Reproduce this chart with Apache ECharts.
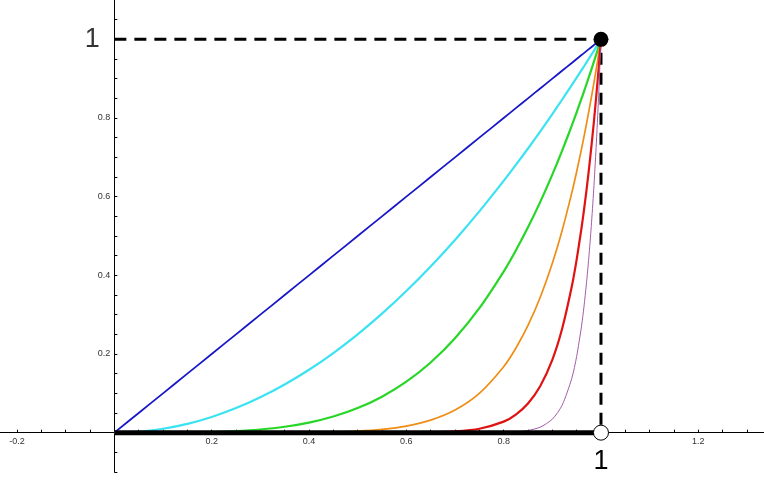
<!DOCTYPE html>
<html>
<head>
<meta charset="utf-8">
<script src="https://cdn.jsdelivr.net/npm/echarts@6/dist/echarts.min.js"></script>
<style>
  html, body { margin: 0; padding: 0; background: #fff; }
  #chart { width: 764px; height: 498px; }
</style>
</head>
<body>
<div id="chart"></div>
<script>
// sample x positions along the curves
const xs = [0, 0.05, 0.1, 0.15, 0.2, 0.25, 0.3, 0.35, 0.4, 0.45, 0.5, 0.55, 0.6, 0.65, 0.7, 0.75, 0.8,
  0.825, 0.85, 0.875, 0.9, 0.92, 0.94, 0.95, 0.96, 0.965, 0.97, 0.975, 0.98, 0.985, 0.99, 0.995, 1];

// curve values
const blueY = [0, 0.05, 0.1, 0.15, 0.2, 0.25, 0.3, 0.35, 0.4, 0.45, 0.5, 0.55, 0.6, 0.65, 0.7, 0.75, 0.8,
  0.825, 0.85, 0.875, 0.9, 0.92, 0.94, 0.95, 0.96, 0.965, 0.97, 0.975, 0.98, 0.985, 0.99, 0.995, 1];
const cyanY = [0, 0.0025, 0.01, 0.0225, 0.04, 0.0625, 0.09, 0.1225, 0.16, 0.2025, 0.25, 0.3025, 0.36, 0.4225, 0.49, 0.5625, 0.64,
  0.6806, 0.7225, 0.7656, 0.81, 0.8464, 0.8836, 0.9025, 0.9216, 0.9312, 0.9409, 0.9506, 0.9604, 0.9702, 0.9801, 0.990, 1];
const greenY = [0, 0, 0.0001, 0.0005, 0.0016, 0.0039, 0.0081, 0.015, 0.0256, 0.041, 0.0625, 0.0915, 0.1296, 0.1785, 0.2401, 0.3164, 0.4096,
  0.4633, 0.522, 0.5862, 0.6561, 0.7164, 0.7807, 0.8145, 0.8493, 0.8672, 0.8853, 0.9037, 0.9224, 0.9413, 0.9606, 0.9801, 1];
const orangeY = [0, 0, 0, 0, 0, 0, 0.0001, 0.0002, 0.0007, 0.0017, 0.0039, 0.0084, 0.0168, 0.0319, 0.0576, 0.1001, 0.1678,
  0.2146, 0.2725, 0.3436, 0.4305, 0.5132, 0.6096, 0.6634, 0.7214, 0.752, 0.7837, 0.8167, 0.8508, 0.8861, 0.9227, 0.9607, 1];
const redY = [0, 0, 0, 0, 0, 0, 0, 0, 0, 0, 0, 0.0001, 0.0003, 0.001, 0.0033, 0.01, 0.0281,
  0.0461, 0.0743, 0.1181, 0.1853, 0.2634, 0.3716, 0.4401, 0.5204, 0.5655, 0.6142, 0.6669, 0.7238, 0.7852, 0.8515, 0.9229, 1];
const purpleY = [0, 0, 0, 0, 0, 0, 0, 0, 0, 0, 0, 0, 0, 0, 0, 0.0001, 0.0008,
  0.0021, 0.0055, 0.0139, 0.0343, 0.0694, 0.1381, 0.1937, 0.2708, 0.3198, 0.3773, 0.4448, 0.5239, 0.6166, 0.725, 0.8518, 1];

// guide marks
const baseLine = [[0, 0], [1, 0]];
const dashLine = [[0, 1], [1, 1], [1, 0]];
const filledPt = [[1, 1]];
const openPt = [[1, 0]];
const leftOne = [[0, 1]];

// axis ranges, ticks and labels
const xMin = -0.235, xMax = 1.335;
const yMin = -0.1, yMax = 1.1;
const xTicks = [];
for (let i = -4; i <= 26; i++) xTicks.push(+(i * 0.05).toFixed(2));
const xLabels = [-0.2, 0.2, 0.4, 0.6, 0.8, 1.2];
const yTicks = [];
for (let i = -2; i <= 21; i++) yTicks.push(+(i * 0.05).toFixed(2));
const yLabels = [0.2, 0.4, 0.6, 0.8];

const W = 764, H = 498, gridBottom = 26;
const plotH = H - gridBottom;
// move the axes so they cross at the origin
const yAxisShift = -(0 - xMin) / (xMax - xMin) * W;
const xAxisShift = -(0 - yMin) / (yMax - yMin) * plotH;

const curves = [
  { y: blueY, color: '#1717c9', w: 1.8 },
  { y: cyanY, color: '#3be3f2', w: 2.2 },
  { y: greenY, color: '#28d628', w: 2.2 },
  { y: orangeY, color: '#ef8d16', w: 1.7 },
  { y: redY, color: '#e01212', w: 2.2 },
  { y: purpleY, color: '#9b4a9b', w: 0.9 }
];

let myChart = echarts.init(document.getElementById('chart'));

let series = [
  {
    type: 'line',
    data: dashLine,
    symbol: 'none',
    z: 1,
    lineStyle: { color: '#000', width: 3, type: [12, 8] }
  }
];
curves.forEach(c => {
  series.push({
    type: 'line',
    data: xs.map((x, i) => [x, c.y[i]]),
    symbol: 'none',
    smooth: 0.25,
    z: 2,
    lineStyle: { color: c.color, width: c.w }
  });
});
series.push(
  {
    type: 'line',
    data: baseLine,
    symbol: 'none',
    z: 3,
    lineStyle: { color: '#000', width: 5 }
  },
  {
    type: 'scatter',
    data: filledPt,
    symbolSize: 15,
    z: 4,
    itemStyle: { color: '#000', opacity: 1 }
  },
  {
    type: 'scatter',
    data: openPt,
    symbolSize: 15,
    z: 4,
    itemStyle: { color: '#fff', borderColor: '#000', borderWidth: 1, opacity: 1 },
    label: {
      show: true, position: 'bottom', distance: 7, formatter: '1',
      fontFamily: 'Liberation Sans', fontSize: 27, color: '#000'
    }
  },
  {
    type: 'scatter',
    data: leftOne,
    symbolSize: 1,
    z: 4,
    itemStyle: { color: 'rgba(0,0,0,0)' },
    label: {
      show: true, position: 'left', distance: 14, formatter: '1',
      fontFamily: 'Liberation Sans', fontSize: 27, color: '#000'
    }
  }
);

let option = {
  animation: false,
  backgroundColor: '#fff',
  grid: { left: 0, right: 0, top: 0, bottom: gridBottom, containLabel: false, outerBoundsMode: 'none' },
  xAxis: {
    type: 'value',
    min: xMin,
    max: xMax,
    offset: xAxisShift,
    splitLine: { show: false },
    axisLine: { onZero: false, lineStyle: { color: '#000', width: 1 } },
    axisTick: { inside: true, length: 3, customValues: xTicks, lineStyle: { color: '#000' } },
    axisLabel: {
      customValues: xLabels, margin: 4,
      fontFamily: 'Liberation Sans', fontSize: 9, color: '#333'
    }
  },
  yAxis: {
    type: 'value',
    min: yMin,
    max: yMax,
    offset: yAxisShift,
    splitLine: { show: false },
    axisLine: { onZero: false, lineStyle: { color: '#000', width: 1 } },
    axisTick: { inside: true, length: 3, customValues: yTicks, lineStyle: { color: '#000' } },
    axisLabel: {
      customValues: yLabels, margin: 4,
      fontFamily: 'Liberation Sans', fontSize: 9, color: '#333'
    }
  },
  series: series
};

myChart.setOption(option);
</script>
</body>
</html>
